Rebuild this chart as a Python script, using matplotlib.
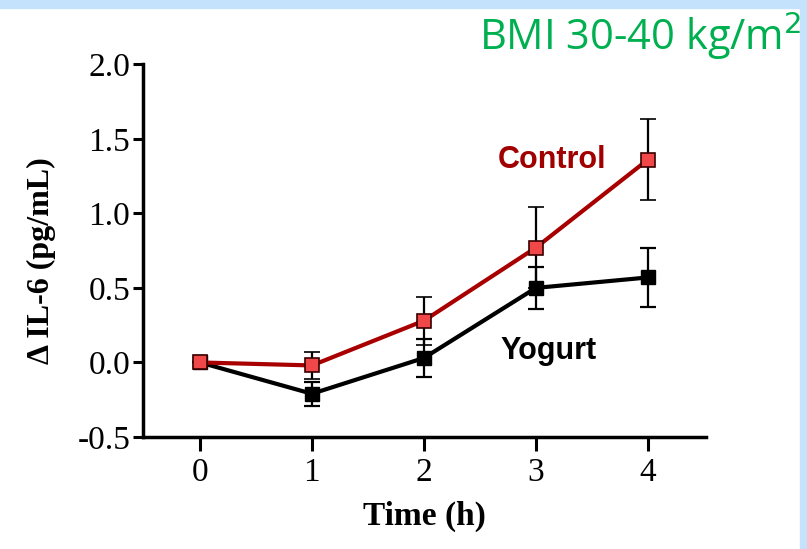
import numpy as np
import matplotlib
matplotlib.use("Agg")
import matplotlib.pyplot as plt
from matplotlib.patches import Rectangle

plt.rcParams['axes.unicode_minus'] = False

# data
time_h = [0, 1, 2, 3, 4]
control = [0.0, -0.02, 0.28, 0.77, 1.36]
control_err = [0.0, 0.09, 0.16, 0.27, 0.27]
yogurt = [0.0, -0.21, 0.03, 0.50, 0.57]
yogurt_err = [0.0, 0.08, 0.13, 0.14, 0.20]
yticks = [-0.5, 0.0, 0.5, 1.0, 1.5, 2.0]

fig = plt.figure(figsize=(8.07, 5.49), dpi=100)
fig.patch.set_facecolor('white')
# light blue frame strips (top and right)
fig.patches.append(Rectangle((0, 1 - 8 / 549), 1, 8 / 549, transform=fig.transFigure,
                             color='#C4E2FB', zorder=0))
fig.patches.append(Rectangle((1 - 7 / 807, 0), 7 / 807, 1, transform=fig.transFigure,
                             color='#C4E2FB', zorder=0))

ax = fig.add_axes([0.177, 0.204, 0.698, 0.679])
ax.set_facecolor('none')

serif = 'Liberation Serif'

ax.errorbar(time_h, yogurt, yerr=yogurt_err, color='black', lw=3, marker='s',
            markersize=10, markerfacecolor='black', markeredgecolor='black',
            ecolor='black', elinewidth=1.6, capsize=6, capthick=1.6, zorder=3)
ax.errorbar(time_h, control, yerr=control_err, color='#A80000', lw=3, marker='s',
            markersize=10, markerfacecolor='#F04848', markeredgecolor='#3a0000',
            markeredgewidth=1.2, ecolor='black', elinewidth=1.6, capsize=6,
            capthick=1.6, zorder=4)

ax.set_xlim(-0.51, 4.52)
ax.set_ylim(-0.5, 2.0)
ax.set_xticks(time_h)
ax.set_yticks(yticks)
ax.set_yticklabels([f"{v:.1f}" for v in yticks])

for s in ['top', 'right']:
    ax.spines[s].set_visible(False)
for s in ['left', 'bottom']:
    ax.spines[s].set_linewidth(2.5)

ax.tick_params(axis='both', direction='out', width=2.2, labelsize=24)
ax.tick_params(axis='x', length=10, pad=5)
ax.tick_params(axis='y', length=7, pad=2)
for lab in ax.get_xticklabels() + ax.get_yticklabels():
    lab.set_fontfamily(serif)

ax.set_xlabel('Time (h)', fontsize=24, fontweight='bold', fontfamily=serif, va='center')
ax.set_ylabel('Δ IL-6 (pg/mL)', fontsize=23, fontweight='bold', fontfamily=serif, va='center')
ax.xaxis.set_label_coords(0.5, -0.212)
ax.yaxis.set_label_coords(-0.18, 0.472)

ax.text(2.66, 1.36, 'Control', color='#A00000', fontsize=22, fontweight='bold',
        fontfamily='Liberation Sans', ha='left', va='center')
ax.text(2.68, 0.08, 'Yogurt', color='black', fontsize=22, fontweight='bold',
        fontfamily='Liberation Sans', ha='left', va='center')

fig.text(0.993, 0.935, 'BMI 30-40 kg/m$^2$', color='#00B050', fontsize=30,
         fontfamily='Open Sans', ha='right', va='center')

fig.savefig('out.png', dpi=100)
